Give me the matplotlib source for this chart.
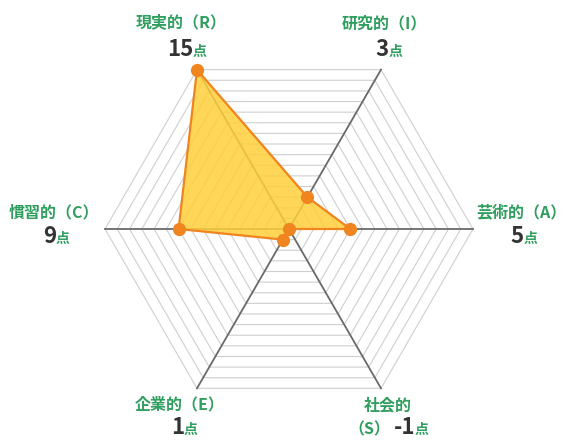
import numpy as np
import matplotlib
matplotlib.use("Agg")
import matplotlib.pyplot as plt

plt.rcParams['font.family'] = ['Noto Sans CJK JP', 'DejaVu Sans']

# データ（RIASEC）
categories = ['現実的（R）', '研究的（I）', '芸術的（A）', '社会的\n（S）', '企業的（E）', '慣習的（C）']
scores = [15, 3, 5, -1, 1, 9]
angles_deg = [120, 60, 0, -60, -120, 180]
max_score = 15

green = '#2f9e5e'
dark = '#333333'
orange = '#f0841e'

W, H = 565, 440
fig = plt.figure(figsize=(W / 100, H / 100), dpi=100)
ax = fig.add_axes([0, 0, 1, 1])

# 中心 (289,229) px, 外周半径 184px
cx, cy, R = 289, 229, 184
u = R / max_score
ax.set_xlim(-cx / u, (W - cx) / u)
ax.set_ylim(-(H - cy) / u, cy / u)
ax.set_aspect('equal')
ax.axis('off')

th = np.deg2rad(angles_deg)
ring_th = np.deg2rad(np.arange(0, 361, 60))

# グリッド（六角形）
for r in range(1, max_score + 1):
    ax.plot(r * np.cos(ring_th), r * np.sin(ring_th), color='#cfcfcf', lw=0.8, zorder=1)
# 軸
for t in th:
    ax.plot([0, max_score * np.cos(t)], [0, max_score * np.sin(t)], color='#6a6a6a', lw=1.3, zorder=2)

# 値（マイナスは中心に）
rv = np.clip(np.array(scores, dtype=float), 0, None)
xs = rv * np.cos(th)
ys = rv * np.sin(th)
ax.fill(xs, ys, color='#ffcf3a', alpha=0.85, zorder=3, lw=0)
ax.plot(np.append(xs, xs[0]), np.append(ys, ys[0]), color=orange, lw=1.6, zorder=4)
ax.plot(xs, ys, 'o', color=orange, ms=8.5, zorder=5)

# ラベル配置（図のピクセル座標）: 名前の中心, 点数の区切り位置とベースライン
name_pos = [(181, 22), (384, 23), (521, 212), (388, 405), (180, 404), (54, 212)]
num_pos = [(193, 56), (389, 56), (524, 243), (415, 434), (184, 434), (56, 243)]

def fx(p):
    return p[0] / W, 1 - p[1] / H

for i, cat in enumerate(categories):
    if '\n' in cat:
        top, paren = cat.split('\n')
        fig.text(*fx(name_pos[i]), top, color=green, fontsize=11.5, fontweight='bold',
                 ha='center', va='center')
        fig.text(*fx((num_pos[i][0] - 25, num_pos[i][1])), paren, color=green, fontsize=11.5,
                 fontweight='bold', ha='right', va='baseline')
    else:
        fig.text(*fx(name_pos[i]), cat, color=green, fontsize=11.5, fontweight='bold',
                 ha='center', va='center')
    fig.text(*fx(num_pos[i]), str(scores[i]), color=dark, fontsize=16, fontweight='bold',
             ha='right', va='baseline')
    fig.text(*fx(num_pos[i]), '点', color=green, fontsize=10, fontweight='bold',
             ha='left', va='baseline')

fig.savefig('out.png', dpi=100)
